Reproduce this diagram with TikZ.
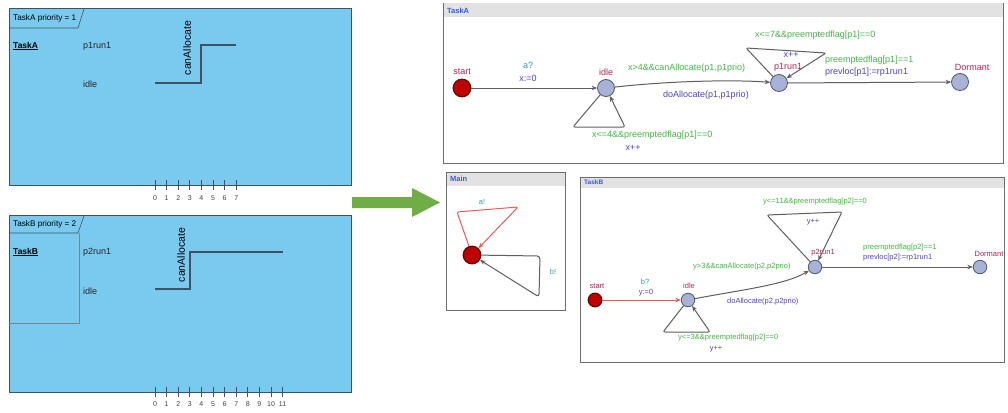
\documentclass[tikz,border=0pt]{standalone}
\usepackage{fontspec}
\setmainfont{Liberation Sans}
\usetikzlibrary{arrows.meta}

\definecolor{panelfill}{RGB}{122,202,240}
\definecolor{panelline}{RGB}{62,82,98}
\definecolor{flowgreen}{RGB}{112,173,71}
\definecolor{hdrfill}{RGB}{226,226,226}
\definecolor{frameline}{RGB}{110,110,110}
\definecolor{hdrtext}{RGB}{60,90,220}
\definecolor{locname}{RGB}{170,40,80}
\definecolor{guardc}{RGB}{70,180,70}
\definecolor{syncc}{RGB}{50,160,170}
\definecolor{updc}{RGB}{80,70,180}
\definecolor{locfill}{RGB}{168,178,214}
\definecolor{locdraw}{RGB}{80,88,110}
\definecolor{initfill}{RGB}{190,0,0}
\definecolor{initdraw}{RGB}{110,0,0}
\definecolor{edgegrey}{RGB}{95,95,95}
\definecolor{edgered}{RGB}{225,95,95}

\tikzset{
  panel/.style={draw=panelline, fill=panelfill, line width=0.9pt},
  wave/.style={draw=panelline, line width=1.3pt},
  tick/.style={draw=panelline, line width=0.8pt},
  ticklbl/.style={font=\fontsize{7}{8}\selectfont, text=black!75, inner sep=0pt},
  sdlbl/.style={font=\fontsize{9}{10}\selectfont, text=black!85, inner sep=0pt, anchor=west},
  frame/.style={draw=frameline, fill=white, line width=0.9pt},
  hdr/.style={fill=hdrfill},
  hdrlbl/.style={font=\bfseries\fontsize{7.5}{8}\selectfont, text=hdrtext, inner sep=0pt, anchor=west},
  loc/.style={circle, draw=locdraw, fill=locfill, line width=0.8pt, minimum size=17pt, inner sep=0pt},
  locs/.style={loc, minimum size=13.5pt},
  init/.style={circle, draw=initdraw, fill=initfill, line width=1.3pt, minimum size=17.5pt, inner sep=0pt},
  inits/.style={init, minimum size=13.5pt},
  edge/.style={draw=edgegrey, line width=1pt, -{Stealth[length=5.5pt,width=4.5pt]}},
  redge/.style={draw=edgered, line width=1pt, -{Stealth[length=5.5pt,width=4.5pt]}},
  lA/.style={font=\fontsize{9}{10}\selectfont, inner sep=0pt},
  lB/.style={font=\fontsize{7.5}{8}\selectfont, inner sep=0pt},
}

\begin{document}
\begin{tikzpicture}[x=1pt,y=-1pt]
\useasboundingbox (0,0) rectangle (1008,412);

% ---------- sequence panel for TaskA ----------
\path[panel] (9,8) rectangle (351,185);
\draw[panelline, line width=0.6pt] (9,28) -- (78,28) -- (84,9);
\node[font=\fontsize{8.2}{9}\selectfont, inner sep=0pt, anchor=west] (tAhdr) at (13,18) {TaskA priority = 1};
\node[font=\bfseries\fontsize{8.5}{9}\selectfont, inner sep=0pt, anchor=west] (tAname) at (13,46) {\underline{TaskA}};
\node[sdlbl] (tArun) at (83,46) {p1run1};
\node[sdlbl] (tAidle) at (83,84) {idle};
\coordinate (wA0) at (155,83);
\coordinate (wA1) at (201,83);
\coordinate (wA2) at (201,45);
\coordinate (wA3) at (236,45);
\draw[wave] (wA0) -- (wA1) -- (wA2) -- (wA3);
\node[font=\fontsize{10.5}{11}\selectfont, inner sep=0pt, rotate=90] (tAcan) at (187,48) {canAllocate};
\foreach \i in {0,...,7} {
  \draw[tick] ({155+11.6*\i},180) -- ({155+11.6*\i},190);
  \node[ticklbl] (tAt\i) at ({155+11.6*\i},198) {\i};
}

% ---------- sequence panel for TaskB ----------
\path[panel] (9,215) rectangle (351,392);
\draw[panelline, line width=0.6pt] (9,233) -- (78,233) -- (84,216);
\draw[panelline!70, line width=0.5pt] (79,233) -- (79,323) -- (9,323);
\node[font=\fontsize{8.2}{9}\selectfont, inner sep=0pt, anchor=west] (tBhdr) at (13,224) {TaskB priority = 2};
\node[font=\bfseries\fontsize{8.5}{9}\selectfont, inner sep=0pt, anchor=west] (tBname) at (13,252) {\underline{TaskB}};
\node[sdlbl] (tBrun) at (83,252) {p2run1};
\node[sdlbl] (tBidle) at (83,291) {idle};
\coordinate (wB0) at (155,289);
\coordinate (wB1) at (190,289);
\coordinate (wB2) at (190,252);
\coordinate (wB3) at (283,252);
\draw[wave] (wB0) -- (wB1) -- (wB2) -- (wB3);
\node[font=\fontsize{10.5}{11}\selectfont, inner sep=0pt, rotate=90] (tBcan) at (181,255) {canAllocate};
\foreach \i in {0,...,11} {
  \draw[tick] ({155+11.6*\i},387) -- ({155+11.6*\i},397);
  \node[ticklbl] (tBt\i) at ({155+11.6*\i},404) {\i};
}

% ---------- transformation arrow ----------
\fill[flowgreen] (352,197) -- (412,197) -- (412,188) -- (440,202.5) -- (412,217) -- (412,208) -- (352,208) -- cycle;

% ---------- automaton TaskA ----------
\path[frame] (443,3) rectangle (1003,163);
\path[hdr] (443.5,3.5) rectangle (1002.5,17);
\node[hdrlbl] (hA) at (447,11) {TaskA};

\node[init] (aStart) at (462,88) {};
\node[loc] (aIdle) at (606,88) {};
\node[loc] (aRun) at (779,83) {};
\node[loc] (aDorm) at (960,82) {};
\node[lA, text=locname] (aStartL) at (462,72) {start};
\node[lA, text=locname] (aIdleL) at (606,72) {idle};
\node[lA, text=locname] (aRunL) at (788,67) {p1run1};
\node[lA, text=locname] (aDormL) at (972,67) {Dormant};

\draw[edge] (aStart) -- (aIdle);
\node[lA, text=syncc] (aSync) at (528,65) {a?};
\node[lA, text=updc] (aUpd) at (528,78) {x:=0};

\draw[edge] (aIdle) .. controls (680,80) and (740,80) .. (aRun);
\node[lA, text=guardc, anchor=west] (aG1) at (628,68) {x>4\&\&canAllocate(p1,p1prio)};
\node[lA, text=updc, anchor=west] (aU1) at (663,95) {doAllocate(p1,p1prio)};

\coordinate (aL1) at (573,127);
\coordinate (aL2) at (625,127);
\draw[edge, rounded corners=2pt] (aIdle) -- (aL1) -- (aL2) -- (aIdle);
\node[lA, text=guardc, anchor=west] (aG2) at (592,135) {x<=4\&\&preemptedflag[p1]==0};
\node[lA, text=updc] (aU2) at (633,148) {x++};

\coordinate (aR1) at (746,48);
\coordinate (aR2) at (826,53);
\draw[edge, rounded corners=2pt] (aRun) -- (aR1) -- (aR2) -- (aRun);
\node[lA, text=guardc, anchor=west] (aG3) at (755,35) {x<=7\&\&preemptedflag[p1]==0};
\node[lA, text=updc] (aU3) at (791,55) {x++};

\draw[edge] (aRun) -- (aDorm);
\node[lA, text=guardc, anchor=west] (aG4) at (825,60) {preemptedflag[p1]==1};
\node[lA, text=updc, anchor=west] (aU4) at (825,72) {prevloc[p1]:=rp1run1};

% ---------- automaton Main ----------
\path[frame] (446,172) rectangle (565,310);
\path[hdr] (446.5,172.5) rectangle (564.5,186);
\node[hdrlbl] (hM) at (450,179) {Main};
\node[init] (mInit) at (472,255) {};
\coordinate (mA1) at (457,212);
\coordinate (mA2) at (518,207);
\draw[redge, rounded corners=2pt] (mInit) -- (mA1) -- (mA2) -- (mInit);
\node[lB, text=syncc] (mA) at (482,202) {a!};
\coordinate (mB1) at (540,256);
\coordinate (mB2) at (539,297);
\draw[edge, rounded corners=3pt] (mInit) -- (mB1) -- (mB2) -- (mInit);
\node[lB, text=syncc] (mB) at (553,272) {b!};

% ---------- automaton TaskB ----------
\path[frame] (580,177) rectangle (1004,362);
\path[hdr] (580.5,177.5) rectangle (1003.5,188);
\node[hdrlbl, font=\bfseries\fontsize{6.5}{7}\selectfont] (hB) at (584,182.5) {TaskB};

\node[inits] (bStart) at (595,300) {};
\node[locs] (bIdle) at (688,300) {};
\node[locs] (bRun) at (815,267) {};
\node[locs] (bDorm) at (980,267) {};
\node[lB, text=locname] (bStartL) at (597,286) {start};
\node[lB, text=locname] (bIdleL) at (689,286) {idle};
\node[lB, text=locname] (bRunL) at (823,253) {p2run1};
\node[lB, text=locname] (bDormL) at (989,254) {Dormant};

\draw[redge] (bStart) -- (bIdle);
\node[lB, text=syncc] (bSync) at (645,282) {b?};
\node[lB, text=updc] (bUpd) at (646,293) {y:=0};

\draw[edge] (bIdle) .. controls (740,290) and (785,285) .. (bRun);
\node[lB, text=guardc, anchor=west] (bG1) at (693,267) {y>3\&\&canAllocate(p2,p2prio)};
\node[lB, text=updc, anchor=west] (bU1) at (727,302) {doAllocate(p2,p2prio)};

\coordinate (bL1) at (663,332);
\coordinate (bL2) at (710,332);
\draw[edge, rounded corners=2pt] (bIdle) -- (bL1) -- (bL2) -- (bIdle);
\node[lB, text=guardc, anchor=west] (bG2) at (678,338) {y<=3\&\&preemptedflag[p2]==0};
\node[lB, text=updc] (bU2) at (716,349) {y++};

\coordinate (bR1) at (767,215);
\coordinate (bR2) at (842,212);
\draw[edge, rounded corners=2pt] (bRun) -- (bR1) -- (bR2) -- (bRun);
\node[lB, text=guardc, anchor=west] (bG3) at (763,202) {y<=11\&\&preemptedflag[p2]==0};
\node[lB, text=updc] (bU3) at (813,222) {y++};

\draw[edge] (bRun) -- (bDorm);
\node[lB, text=guardc, anchor=west] (bG4) at (863,248) {preemptedflag[p2]==1};
\node[lB, text=updc, anchor=west] (bU4) at (863,258) {prevloc[p2]:=rp1run1};
\end{tikzpicture}
\end{document}
